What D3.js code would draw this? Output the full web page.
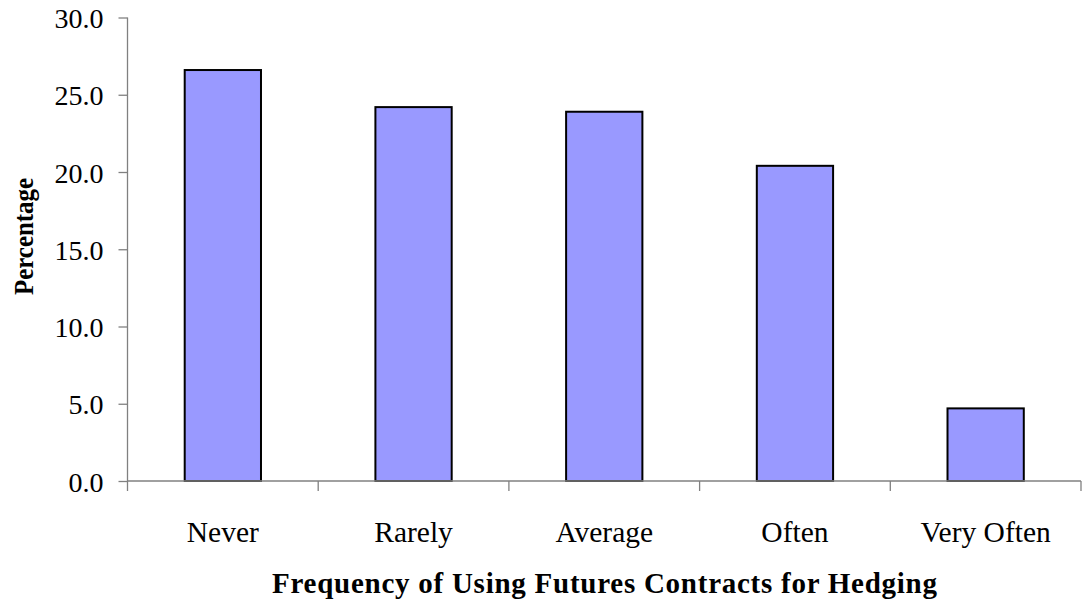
<!DOCTYPE html>
<html>
<head>
<meta charset="utf-8">
<script src="https://cdn.jsdelivr.net/npm/d3@7"></script>
<style>
  html, body { margin: 0; padding: 0; background: #fff; }
  svg { display: block; }
  text { font-family: "Liberation Serif", "Times New Roman", serif; fill: #000; }
</style>
</head>
<body>
<svg id="chart" width="1082" height="603"></svg>
<script>
// Survey responses: how often firms use futures contracts for hedging
const categories = ["Never", "Rarely", "Average", "Often", "Very Often"];
const percentages = [26.6, 24.2, 23.9, 20.4, 4.7];
const yTicks = [0, 5, 10, 15, 20, 25, 30];

const width = 1082, height = 603;
const margin = { top: 17.5, right: 1, bottom: 122, left: 127.5 };

const svg = d3.select("#chart");

const x = d3.scaleBand()
  .domain(categories)
  .range([margin.left, width - margin.right])
  .paddingInner(0.6)
  .paddingOuter(0.3);

const y = d3.scaleLinear()
  .domain([0, 30])
  .range([height - margin.bottom, margin.top]);

const axisColor = "#808080";

// Bars
svg.append("g")
  .selectAll("rect")
  .data(percentages)
  .join("rect")
  .attr("x", (d, i) => x(categories[i]))
  .attr("y", d => y(d))
  .attr("width", x.bandwidth())
  .attr("height", d => y(0) - y(d))
  .attr("fill", "#9999FF")
  .attr("stroke", "#000")
  .attr("stroke-width", 2);

// Y axis
const yAxis = svg.append("g")
  .attr("transform", `translate(${margin.left},0)`)
  .call(d3.axisLeft(y)
    .tickValues(yTicks)
    .tickFormat(d3.format(".1f"))
    .tickSize(9)
    .tickPadding(15));
yAxis.selectAll("path, line").attr("stroke", axisColor).attr("stroke-width", 1.3);
yAxis.select(".domain").attr("d", `M0,${y(30)}V${y(0)}`);
yAxis.selectAll("text")
  .style("font-family", "'Liberation Serif', serif")
  .style("font-size", "28px")
  .attr("dy", "0.36em");

// X axis: ticks mark the category boundaries
const step = x.step();
const boundaries = d3.range(categories.length + 1).map(i => margin.left + i * step);
const xAxis = svg.append("g");
xAxis.append("line")
  .attr("x1", margin.left).attr("x2", width - margin.right)
  .attr("y1", y(0)).attr("y2", y(0))
  .attr("stroke", axisColor).attr("stroke-width", 1.3);
xAxis.selectAll("line.tick")
  .data(boundaries)
  .join("line")
  .attr("class", "tick")
  .attr("x1", d => d).attr("x2", d => d)
  .attr("y1", y(0)).attr("y2", y(0) + 10)
  .attr("stroke", axisColor).attr("stroke-width", 1.3);
xAxis.selectAll("text")
  .data(categories)
  .join("text")
  .attr("x", d => x(d) + x.bandwidth() / 2)
  .attr("y", y(0) + 61)
  .attr("text-anchor", "middle")
  .style("font-size", "29.5px")
  .text(d => d);

// Axis titles
svg.append("text")
  .attr("transform", `translate(33,236.5) rotate(-90)`)
  .attr("text-anchor", "middle")
  .attr("textLength", 117)
  .attr("lengthAdjust", "spacingAndGlyphs")
  .style("font-size", "28px")
  .style("font-weight", "bold")
  .text("Percentage");

svg.append("text")
  .attr("x", 604.5)
  .attr("y", 593)
  .attr("text-anchor", "middle")
  .attr("textLength", 665)
  .attr("lengthAdjust", "spacing")
  .style("font-size", "29px")
  .style("font-weight", "bold")
  .text("Frequency of Using Futures Contracts for Hedging");
</script>
</body>
</html>
